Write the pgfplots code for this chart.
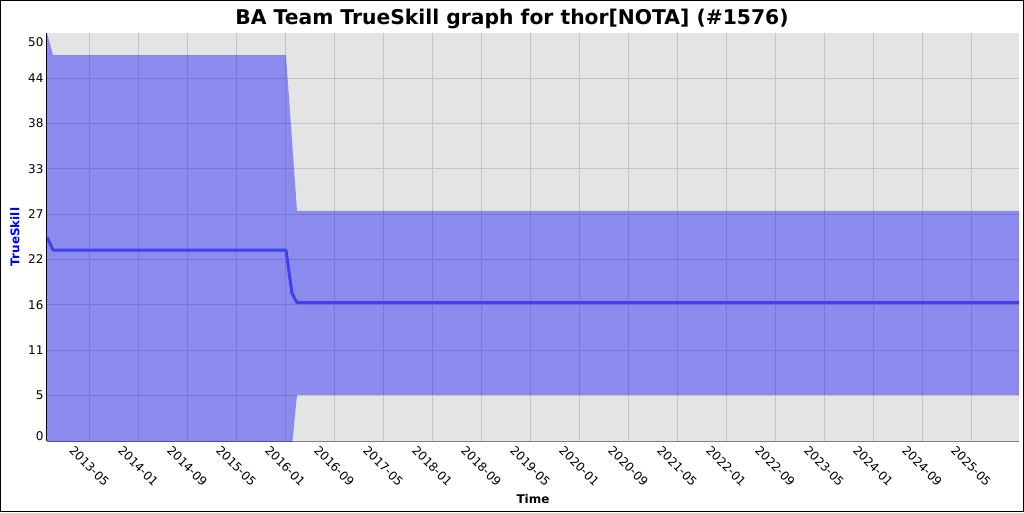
\documentclass[border=0pt]{standalone}
\usepackage{fontspec}
\setmainfont{DejaVu Sans}
\usepackage{pgfplots}
\pgfplotsset{compat=1.18}
\definecolor{plotbg}{RGB}{228,228,228}
\definecolor{gridc}{RGB}{196,196,196}
\definecolor{meanc}{RGB}{64,64,240}
\definecolor{bandc}{RGB}{0,0,255}
\begin{document}
\begin{tikzpicture}
\useasboundingbox (0,0) rectangle (1024pt,512pt);
\draw[black, line width=1pt] (0.5pt,0.5pt) rectangle (1023.5pt,511.5pt);
\node[font=\bfseries\fontsize{20.3}{22}\selectfont] at (512pt,493pt) {BA Team TrueSkill graph for thor[NOTA] (\#1576)};
\begin{axis}[
  at={(47pt,71pt)}, anchor=south west,
  width=972pt, height=408pt, scale only axis,
  xmin=-6.91, xmax=151.8, ymin=0, ymax=50,
  axis background/.style={fill=plotbg},
  axis x line*=bottom, axis y line*=left,
  x axis line style={draw=gray, line width=1pt},
  y axis line style={draw=black, line width=1pt},
  major tick length=0pt, minor tick length=0pt,
  /pgf/number format/assume math mode=true,
  xtick={0,8,...,144},
  xticklabels={2013-05,2014-01,2014-09,2015-05,2016-01,2016-09,2017-05,2018-01,2018-09,2019-05,2020-01,2020-09,2021-05,2022-01,2022-09,2023-05,2024-01,2024-09,2025-05},
  xticklabel style={yshift=-25pt, rotate=-45, anchor=center},
  ytick={0.61,5.56,11.12,16.68,22.24,27.8,33.36,38.92,44.48,48.9},
  yticklabels={0,5,11,16,22,27,33,38,44,50},
  minor ytick={5.56,11.12,16.68,22.24,27.8,33.36,38.92,44.48},
  xmajorgrids, yminorgrids, ymajorgrids=false,
  grid style={gridc, line width=1pt},
  minor grid style={gridc, line width=1pt},
  tick label style={font=\fontsize{12}{14}\selectfont},
  xlabel={\textbf{Time}},
  xlabel style={at={(axis description cs:0.5,-0.142)}, anchor=center, font=\fontsize{12}{14}\selectfont},
  ylabel={\textbf{TrueSkill}},
  ylabel style={at={(axis description cs:-0.033,0.5)}, anchor=center, text=blue, font=\fontsize{12}{14}\selectfont},
  clip=true,
]
\addplot[draw=none, fill=bandc, fill opacity=0.39] coordinates {
  (-6.91,50.0) (-5.93,47.3) (32.11,47.3) (33.09,36.9) (33.91,28.2) (151.8,28.2)
  (151.8,5.64) (33.91,5.64) (33.09,-0.7) (32.11,-0.5) (-5.93,-0.5) (-6.91,0.0)
} -- cycle;
\addplot[meanc, line width=3pt, line join=round] coordinates {
  (-6.91,25.0) (-5.93,23.4) (32.11,23.4) (33.09,18.1) (33.91,16.95) (151.8,16.95)
};
\end{axis}
\end{tikzpicture}
\end{document}
